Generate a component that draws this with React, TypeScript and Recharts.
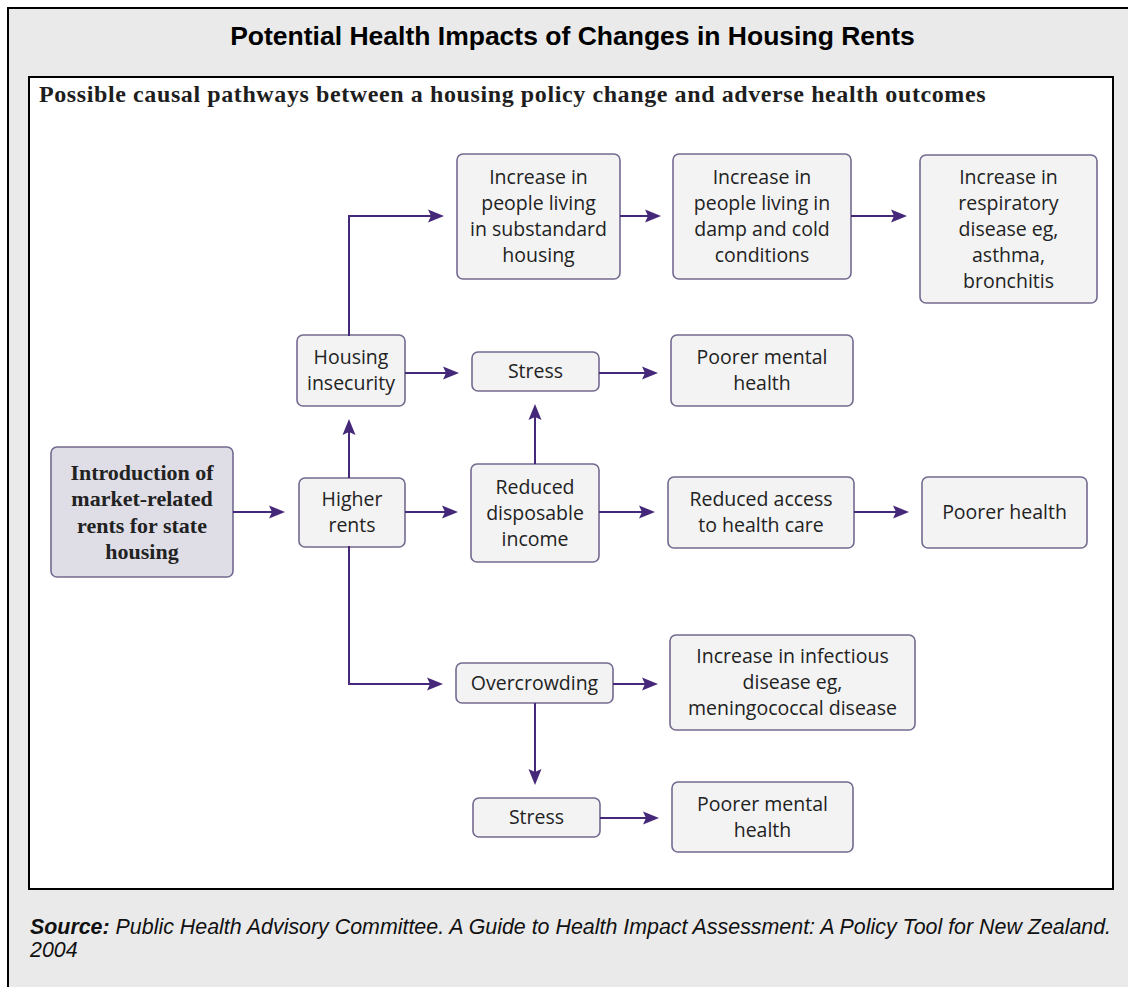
import React from "react";
import { ComposedChart, XAxis, YAxis, ReferenceArea, ReferenceLine, Scatter } from "recharts";

const W = 1128;
const H = 987;

const title = "Potential Health Impacts of Changes in Housing Rents";
const subtitle = "Possible causal pathways between a housing policy change and adverse health outcomes";
const sourceLabel = "Source:";
const sourceText = [
  " Public Health Advisory Committee. A Guide to Health Impact Assessment: A Policy Tool for New Zealand.",
  "2004",
];

// one entry per box, label lines top to bottom
const nodeLabels: string[][] = [
  ["Introduction of", "market-related", "rents for state", "housing"],
  ["Higher", "rents"],
  ["Housing", "insecurity"],
  ["Increase in", "people living", "in substandard", "housing"],
  ["Stress"],
  ["Increase in", "people living in", "damp and cold", "conditions"],
  ["Increase in", "respiratory", "disease eg,", "asthma,", "bronchitis"],
  ["Poorer mental", "health"],
  ["Reduced", "disposable", "income"],
  ["Reduced access", "to health care"],
  ["Poorer health"],
  ["Overcrowding"],
  ["Increase in infectious", "disease eg,", "meningococcal disease"],
  ["Stress"],
  ["Poorer mental", "health"],
];

// box extent in diagram units: [left, right, top, bottom]
const nodeExtents: [number, number, number, number][] = [
  [51, 233, 447, 577],
  [299, 405, 478, 547],
  [297, 405, 335, 406],
  [457, 620, 154, 279],
  [472, 599, 352, 391],
  [673, 851, 154, 279],
  [920, 1097, 155, 303],
  [671, 853, 335, 406],
  [471, 599, 464, 562],
  [668, 854, 477, 548],
  [922, 1087, 477, 548],
  [456, 613, 663, 703],
  [670, 915, 635, 730],
  [473, 600, 798, 837],
  [672, 853, 782, 852],
];

// connector paths, last point is the arrow tip
const arrowPaths: [number, number][][] = [
  [[233, 512], [285, 512]],
  [[405, 512], [458, 512]],
  [[349, 478], [349, 419]],
  [[349, 335], [349, 216], [444, 216]],
  [[405, 373], [459, 373]],
  [[599, 373], [658, 373]],
  [[535, 464], [535, 404]],
  [[599, 512], [655, 512]],
  [[854, 512], [909, 512]],
  [[349, 547], [349, 684], [443, 684]],
  [[613, 684], [658, 684]],
  [[535, 703], [535, 785]],
  [[600, 818], [659, 818]],
  [[620, 216], [661, 216]],
  [[851, 216], [907, 216]],
];

const ARROW = "#45287a";
const BOX_STROKE = "#74698f";
const SANS = "'Liberation Sans', Arial, sans-serif";
const SERIF = "'Liberation Serif', 'Times New Roman', serif";
const BOX_FONT = "'Open Sans', 'Noto Sans', sans-serif";

const nodes = nodeLabels.map((lines, i) => {
  const [x0, x1, y0, y1] = nodeExtents[i];
  return { id: i, lines, x0, x1, y0, y1, cx: (x0 + x1) / 2, cy: (y0 + y1) / 2, root: i === 0 };
});

const boxShape = (root: boolean) => (p: any) => (
  <rect
    x={p.x}
    y={p.y}
    width={p.width}
    height={p.height}
    rx={6}
    ry={6}
    fill={root ? "#dfdee7" : "#f3f3f4"}
    stroke={BOX_STROKE}
    strokeWidth={1.6}
  />
);

const arrowShape = (withHead: boolean) => (p: any) => {
  const x1 = Number(p.x1), y1 = Number(p.y1), x2 = Number(p.x2), y2 = Number(p.y2);
  if (!withHead) {
    return <line x1={x1} y1={y1} x2={x2} y2={y2} stroke={ARROW} strokeWidth={2} strokeLinecap="square" />;
  }
  const len = Math.hypot(x2 - x1, y2 - y1) || 1;
  const ux = (x2 - x1) / len, uy = (y2 - y1) / len;
  const px = -uy, py = ux;
  const L = 16, half = 6.5, notch = 3;
  const bx = x2 - ux * L, by = y2 - uy * L;
  const nx = x2 - ux * (L - notch), ny = y2 - uy * (L - notch);
  const pts = [
    [x2, y2],
    [bx + px * half, by + py * half],
    [nx, ny],
    [bx - px * half, by - py * half],
  ].map((q) => q.join(",")).join(" ");
  return (
    <g>
      <line x1={x1} y1={y1} x2={nx} y2={ny} stroke={ARROW} strokeWidth={2} />
      <polygon points={pts} fill={ARROW} />
    </g>
  );
};

const labelShape = (p: any) => {
  const { cx, cy, payload } = p;
  const root = payload.root;
  const lh = root ? 26.5 : 26;
  const lines: string[] = payload.lines;
  const top = cy - ((lines.length - 1) * lh) / 2;
  return (
    <text
      textAnchor="middle"
      fontFamily={root ? SERIF : BOX_FONT}
      fontWeight={root ? 700 : 400}
      fontSize={root ? 22 : 19.5}
      fill="#222"
    >
      {lines.map((l, i) => (
        <tspan key={i} x={cx} y={top + i * lh} dy="0.35em">
          {l}
        </tspan>
      ))}
    </text>
  );
};

export default function App() {
  return (
    <div style={{ position: "absolute", left: 0, top: 0, width: W, height: H, overflow: "hidden", background: "#fff" }}>
      <div
        style={{
          position: "absolute",
          left: 7,
          top: 7,
          width: 1150,
          height: 1010,
          background: "#eaeaea",
          borderLeft: "2px solid #000",
          borderTop: "2px solid #000",
        }}
      />
      <div
        style={{
          position: "absolute",
          left: 0,
          top: 23,
          width: 1145,
          textAlign: "center",
          fontFamily: SANS,
          fontWeight: 700,
          fontSize: 26.5,
          lineHeight: "26px",
          color: "#000",
          whiteSpace: "nowrap",
        }}
      >
        {title}
      </div>
      <div
        style={{
          position: "absolute",
          left: 28,
          top: 76,
          width: 1086,
          height: 814,
          boxSizing: "border-box",
          border: "2px solid #000",
          background: "#fff",
        }}
      />
      <div
        style={{
          position: "absolute",
          left: 39,
          top: 82,
          fontFamily: SERIF,
          fontWeight: 700,
          fontSize: 24,
          lineHeight: "24px",
          letterSpacing: "0.6px",
          color: "#1e1e1e",
          whiteSpace: "nowrap",
        }}
      >
        {subtitle}
      </div>
      <ComposedChart
        width={W}
        height={H}
        margin={{ top: 0, right: 0, bottom: 0, left: 0 }}
        style={{ position: "absolute", left: 0, top: 0 }}
      >
        <XAxis type="number" dataKey="cx" domain={[0, W]} hide />
        <YAxis type="number" dataKey="cy" domain={[0, H]} reversed hide />
        {nodes.map((n) => (
          <ReferenceArea
            key={`box-${n.id}`}
            x1={n.x0}
            x2={n.x1}
            y1={n.y0}
            y2={n.y1}
            ifOverflow="visible"
            shape={boxShape(n.root)}
          />
        ))}
        {arrowPaths.flatMap((path, a) =>
          path.slice(1).map((pt, s) => (
            <ReferenceLine
              key={`arrow-${a}-${s}`}
              segment={[
                { x: path[s][0], y: path[s][1] },
                { x: pt[0], y: pt[1] },
              ]}
              ifOverflow="visible"
              shape={arrowShape(s === path.length - 2)}
            />
          ))
        )}
        <Scatter data={nodes} dataKey="cy" isAnimationActive={false} shape={labelShape} />
      </ComposedChart>
      <div
        style={{
          position: "absolute",
          left: 30,
          top: 916,
          fontFamily: SANS,
          fontStyle: "italic",
          fontSize: 21.4,
          lineHeight: "23px",
          color: "#111",
          whiteSpace: "nowrap",
        }}
      >
        <b>{sourceLabel}</b>
        {sourceText[0]}
        <br />
        {sourceText[1]}
      </div>
    </div>
  );
}
